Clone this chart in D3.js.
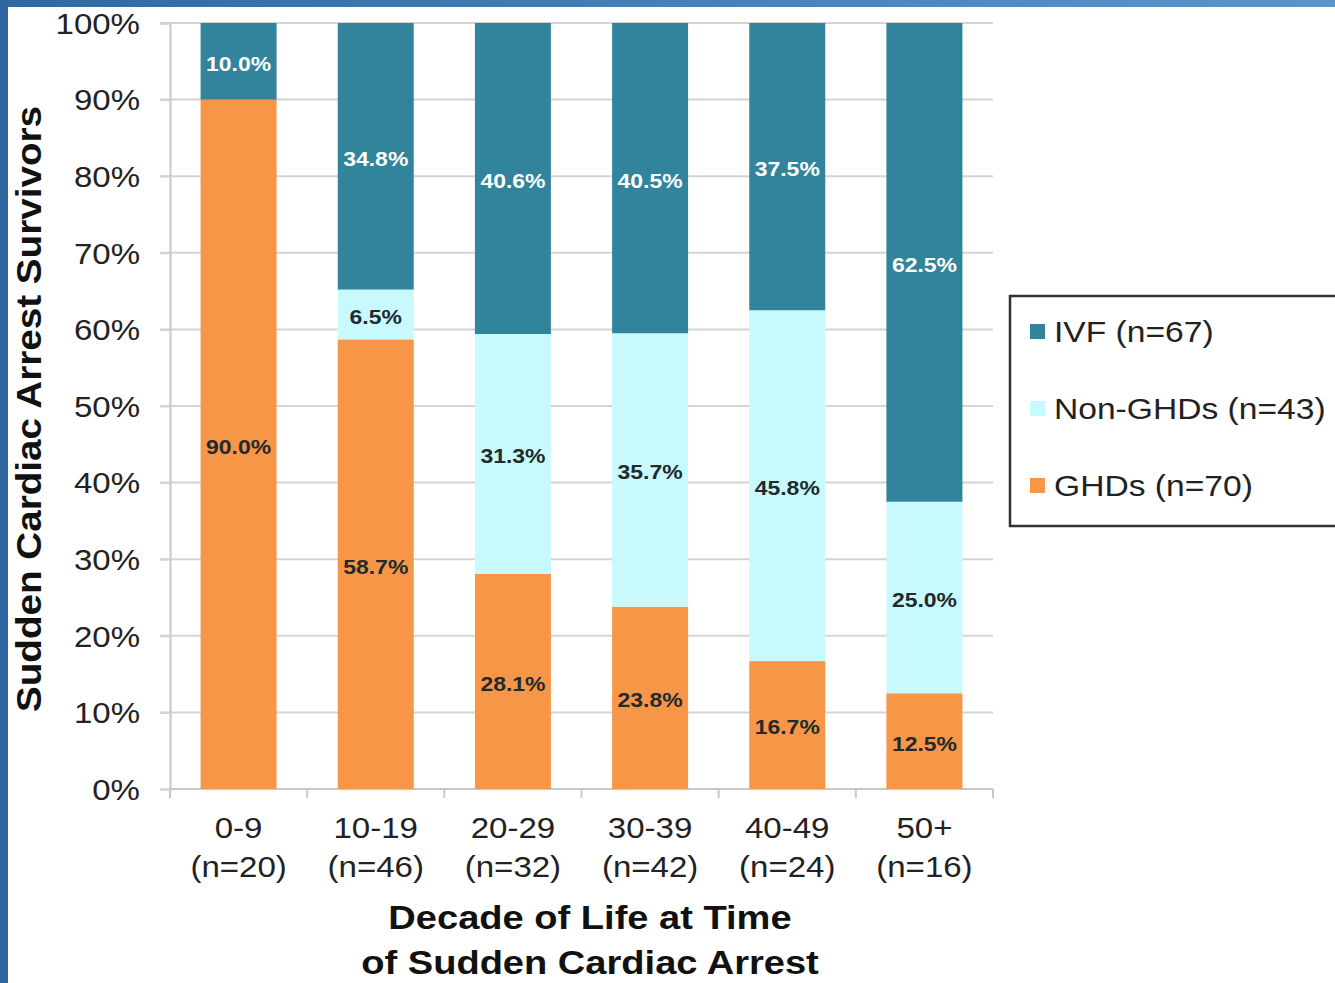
<!DOCTYPE html>
<html>
<head>
<meta charset="utf-8">
<script src="https://cdn.jsdelivr.net/npm/d3@7"></script>
<style>
  html, body { margin: 0; padding: 0; background: #fff; }
  svg { display: block; }
  text { font-family: "Liberation Sans", Arial, sans-serif; }
</style>
</head>
<body>
<svg id="chart" width="1335" height="983"></svg>
<script>
// ---- data ----
const categories = ["0-9", "10-19", "20-29", "30-39", "40-49", "50+"];
const categoryN = ["(n=20)", "(n=46)", "(n=32)", "(n=42)", "(n=24)", "(n=16)"];
const ghds = [90.0, 58.7, 28.1, 23.8, 16.7, 12.5];
const nonGhds = [0, 6.5, 31.3, 35.7, 45.8, 25.0];
const ivf = [10.0, 34.8, 40.6, 40.5, 37.5, 62.5];
const seriesNames = ["GHDs (n=70)", "Non-GHDs (n=43)", "IVF (n=67)"];
const yTicks = [0, 10, 20, 30, 40, 50, 60, 70, 80, 90, 100];

const colors = { ghds: "#f79646", non: "#c8fafd", ivf: "#31849b" };
const SX = 1.12;

const svg = d3.select("#chart");

// frame
const defs = svg.append("defs");
const grad = defs.append("linearGradient").attr("id", "topGrad").attr("x1", "0").attr("x2", "1");
grad.append("stop").attr("offset", "0").attr("stop-color", "#2f69a2");
grad.append("stop").attr("offset", "1").attr("stop-color", "#5b96cb");
svg.append("rect").attr("x", 0).attr("y", 0).attr("width", 1335).attr("height", 7).attr("fill", "url(#topGrad)");
svg.append("rect").attr("x", 0).attr("y", 0).attr("width", 8).attr("height", 983).attr("fill", "#2e67a0");

const x0 = 170, x1 = 993, yBottom = 789, yTop = 23;
const x = d3.scaleBand().domain(categories).range([x0, x1]).paddingInner(0.446).paddingOuter(0.223);
const y = d3.scaleLinear().domain([0, 100]).range([yBottom, yTop]);

// gridlines
svg.append("g").selectAll("line").data(yTicks.filter(d => d > 0)).join("line")
  .attr("x1", x0 - 10).attr("x2", x1).attr("y1", d => y(d)).attr("y2", d => y(d))
  .attr("stroke", "#d4d4d4").attr("stroke-width", 2);

// y axis
const yAxis = svg.append("g").attr("transform", `translate(${x0},0)`)
  .call(d3.axisLeft(y).tickValues(yTicks).tickFormat(d => d + "%").tickSize(10).tickPadding(20));
yAxis.select(".domain").attr("stroke", "#c8c8c8").attr("stroke-width", 2);
yAxis.selectAll(".tick line").attr("stroke", "#d4d4d4").attr("stroke-width", 2);
yAxis.selectAll(".tick text")
  .attr("font-family", "Liberation Sans, Arial, sans-serif")
  .attr("font-size", 29.5).attr("fill", "#222")
  .attr("x", -30 / SX).attr("dy", "0.35em")
  .attr("transform", `scale(${SX},1)`);

// x axis line and ticks
svg.append("line").attr("x1", x0).attr("x2", x1).attr("y1", yBottom).attr("y2", yBottom)
  .attr("stroke", "#c8c8c8").attr("stroke-width", 2);
const step = x.step();
const bounds = categories.map(c => x(c) - step * x.paddingInner() / 2).concat([x1]);
svg.append("g").selectAll("line").data(bounds).join("line")
  .attr("x1", d => d).attr("x2", d => d).attr("y1", yBottom).attr("y2", yBottom + 9)
  .attr("stroke", "#c8c8c8").attr("stroke-width", 2);

// stacked bars
const rows = categories.map((c, i) => ({ cat: c, ghds: ghds[i], non: nonGhds[i], ivf: ivf[i] }));
const stack = d3.stack().keys(["ghds", "non", "ivf"])(rows);
const gBars = svg.append("g");
stack.forEach(layer => {
  gBars.append("g").selectAll("rect").data(layer).join("rect")
    .attr("x", d => x(d.data.cat))
    .attr("width", x.bandwidth())
    .attr("y", d => y(d[1]))
    .attr("height", d => y(d[0]) - y(d[1]))
    .attr("fill", colors[layer.key]);
});

// value labels
stack.forEach(layer => {
  layer.forEach(d => {
    const v = d[1] - d[0];
    if (v <= 0) return;
    const cx = x(d.data.cat) + x.bandwidth() / 2;
    const cy = y((d[0] + d[1]) / 2);
    svg.append("text")
      .attr("transform", `translate(${cx},${cy + 2}) scale(${SX},1)`)
      .attr("text-anchor", "middle").attr("dy", "0.36em")
      .attr("font-size", 20.5).attr("font-weight", "bold")
      .attr("fill", layer.key === "ivf" ? "#ffffff" : "#222a2e")
      .text(v.toFixed(1) + "%");
  });
});

// x category labels
categories.forEach((c, i) => {
  const cx = x(c) + x.bandwidth() / 2;
  svg.append("text").attr("transform", `translate(${cx},838) scale(${SX},1)`)
    .attr("text-anchor", "middle").attr("font-size", 29.5).attr("fill", "#222").text(c);
  svg.append("text").attr("transform", `translate(${cx},877) scale(${SX},1)`)
    .attr("text-anchor", "middle").attr("font-size", 29.5).attr("fill", "#222").text(categoryN[i]);
});

// axis titles
svg.append("text").attr("transform", `translate(590,929) scale(${SX},1)`)
  .attr("text-anchor", "middle").attr("font-size", 34).attr("font-weight", "bold").attr("fill", "#111")
  .text("Decade of Life at Time");
svg.append("text").attr("transform", `translate(590,974) scale(${SX},1)`)
  .attr("text-anchor", "middle").attr("font-size", 34).attr("font-weight", "bold").attr("fill", "#111")
  .text("of Sudden Cardiac Arrest");
svg.append("text").attr("transform", `translate(41,409) rotate(-90) scale(${SX},1)`)
  .attr("text-anchor", "middle").attr("font-size", 34.5).attr("font-weight", "bold").attr("fill", "#111")
  .text("Sudden Cardiac Arrest Survivors");

// legend
const legend = svg.append("g");
legend.append("rect").attr("x", 1010).attr("y", 296).attr("width", 360).attr("height", 230)
  .attr("fill", "#fff").attr("stroke", "#333").attr("stroke-width", 2.5);
const legItems = [
  { name: seriesNames[2], color: colors.ivf, y: 331 },
  { name: seriesNames[1], color: colors.non, y: 408 },
  { name: seriesNames[0], color: colors.ghds, y: 485 }
];
legItems.forEach(it => {
  legend.append("rect").attr("x", 1030).attr("y", it.y - 7).attr("width", 15).attr("height", 15).attr("fill", it.color);
  legend.append("text").attr("transform", `translate(1054,${it.y}) scale(${SX},1)`)
    .attr("dy", "0.36em").attr("font-size", 30).attr("fill", "#222").text(it.name);
});
</script>
</body>
</html>
